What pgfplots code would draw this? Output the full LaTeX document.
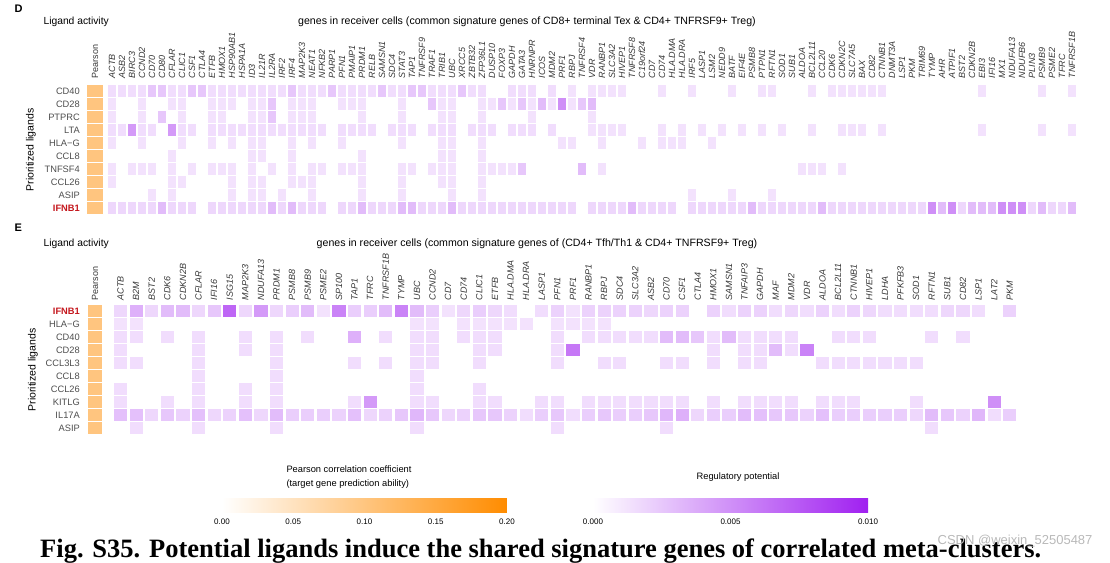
\documentclass[border=0pt]{standalone}
\usepackage{fontspec}
\setmainfont{Liberation Sans}
\newfontfamily\capfont{Liberation Serif}
\usepackage{pgfplots}
\pgfplotsset{compat=1.18}
\definecolor{lab}{RGB}{77,77,77}
\definecolor{collab}{RGB}{55,55,55}
\definecolor{ifnred}{RGB}{196,22,28}
\pgfdeclareplotmark{cellD}{\pgfpathrectangle{\pgfpoint{-4.25pt}{-5.75pt}}{\pgfpoint{8.5pt}{11.5pt}}\pgfusepathqfill}
\pgfdeclareplotmark{cellE}{\pgfpathrectangle{\pgfpoint{-6.6pt}{-5.75pt}}{\pgfpoint{13.2pt}{11.5pt}}\pgfusepathqfill}
\pgfdeclareplotmark{pearD}{\pgfpathrectangle{\pgfpoint{-8pt}{-5.75pt}}{\pgfpoint{16pt}{11.5pt}}\pgfusepathqfill}
\pgfdeclareplotmark{pearE}{\pgfpathrectangle{\pgfpoint{-7pt}{-5.75pt}}{\pgfpoint{14pt}{11.5pt}}\pgfusepathqfill}
\pgfplotsset{
  colormap={purp}{rgb255=(255,255,255) rgb255=(160,32,240)},
  colormap={orng}{rgb255=(255,255,255) rgb255=(255,140,0)},
  hm/.style={scale only axis, clip=false, axis line style={draw=none},
    major tick length=0pt, tick style={draw=none}, ymin=0.5, ymax=10.5, height=130pt},
  cellplot/.style={scatter, only marks, mark=#1, point meta=explicit,
    scatter/use mapped color={fill=mapped color, draw=none}},
  rowlab/.style={y tick label style={anchor=east, inner sep=0pt,
    font=\fontsize{9.3}{11}\selectfont, text=lab}},
  collab/.style={xticklabel pos=upper,
    x tick label style={rotate=90, anchor=west, inner sep=0pt,
    font=\itshape\fontsize{9}{10}\selectfont, text=collab}},
  cbar/.style={scale only axis, height=18pt, scaled x ticks=false,
    axis line style={draw=none}, axis on top, major tick length=18pt, tick align=inside,
    xtick pos=lower, xticklabel pos=lower, xticklabel shift=3pt,
    major tick style={white, line width=0.8pt}},
}
\begin{document}
\begin{tikzpicture}
\useasboundingbox (0,0) rectangle (1110pt,-562pt);
% ---------------- panel D ----------------
\node[anchor=west, font=\bfseries\fontsize{11}{13}\selectfont] at (11pt,-9pt) {D};
\node[anchor=west, font=\fontsize{10.3}{12}\selectfont] at (40pt,-22pt) {Ligand activity};
\node[font=\fontsize{10.6}{12}\selectfont] at (527pt,-22pt) {genes in receiver cells (common signature genes of CD8+ terminal Tex \& CD4+ TNFRSF9+ Treg)};
\node[rotate=90, font=\fontsize{10.5}{12}\selectfont] at (31pt,-150pt) {Prioritized ligands};
\begin{axis}[hm, collab, rowlab, at={(87pt,-214.5pt)}, anchor=south west, width=990pt,
  xmin=-1.5, xmax=97.5, colormap name=purp, point meta min=0, point meta max=0.01,
  xtick={-0.7,1,2,...,97}, xticklabel shift=6pt, yticklabel shift=7pt,
  xticklabels={\upshape Pearson,ACTB,ASB2,BIRC3,CCND2,CD70,CD80,CFLAR,CLIC1,CSF1,CTLA4,ETFB,HMOX1,HSP90AB1,HSPA1A,ID3,IL21R,IL2RA,IRF2,IRF4,MAP2K3,NEAT1,NFKB2,PARP1,PFN1,PMAIP1,PRDM1,RELB,SAMSN1,SDC4,STAT3,TAP1,TNFRSF9,TRAF1,TRIB1,UBC,XRCC5,ZBTB32,ZFP36L1,DUSP10,FOXP3,GAPDH,GATA3,HNRNPR,ICOS,MDM2,PRF1,RBPJ,TNFRSF4,VDR,RANBP1,SLC3A2,HIVEP1,TNFRSF8,C19orf24,CD7,CD74,HLA.DMA,HLA.DRA,IRF5,LASP1,LSM2,NEDD9,BATF,EIF4E,PSMB8,PTPN1,RFTN1,SOD1,SUB1,ALDOA,BCL2L11,CCL20,CDK6,CDKN2C,SLC7A5,BAX,CD82,CTNNB1,DNMT3A,LSP1,PKM,TRIM69,TYMP,AHR,ATPIF1,BST2,CDKN2B,EBI3,IFI16,MX1,NDUFA13,NDUFB6,PLIN3,PSMB9,PSME2,TFRC,TNFRSF1B},
  ytick={1,...,10},
  yticklabels={\textcolor{ifnred}{\bfseries IFNB1},ASIP,CCL26,TNFSF4,CCL8,HLA\symbol{"2212}G,LTA,PTPRC,CD28,CD40}]
\addplot[cellplot=cellD] coordinates {
(1,10)[.0015] (2,10)[.0015] (3,10)[.0015] (4,10)[.0015] (5,10)[.0025] (6,10)[.0025] (7,10)[.0015] (8,10)[.0015] (9,10)[.0025] (10,10)[.0025] (11,10)[.0015] (12,10)[.0015] (13,10)[.0015] (14,10)[.0015] (15,10)[.0015] (16,10)[.0015] (17,10)[.0015] (18,10)[.0015] (19,10)[.0025] (20,10)[.0015] (21,10)[.0015] (22,10)[.0015] (23,10)[.0025] (24,10)[.0015] (25,10)[.0015] (26,10)[.0015] (27,10)[.0015] (28,10)[.0025] (29,10)[.0015] (30,10)[.0015] (31,10)[.0025] (32,10)[.0025] (33,10)[.0015] (34,10)[.0015] (35,10)[.0015] (36,10)[.0025] (37,10)[.0015] (38,10)[.0015] (41,10)[.0015] (42,10)[.0015] (43,10)[.0015] (45,10)[.0015] (47,10)[.0013] (49,10)[.0013] (50,10)[.0013] (51,10)[.0013] (52,10)[.0013] (56,10)[.0013] (59,10)[.0013] (63,10)[.0013] (66,10)[.0013] (67,10)[.0013] (71,10)[.0013] (73,10)[.0013] (74,10)[.0013] (75,10)[.0013] (76,10)[.0013] (77,10)[.0013] (78,10)[.0013] (88,10)[.0013] (94,10)[.0013] (97,10)[.0013]
(1,9)[.0013] (4,9)[.0013] (7,9)[.0013] (8,9)[.0013] (11,9)[.0013] (12,9)[.0013] (13,9)[.0013] (15,9)[.0013] (16,9)[.0013] (17,9)[.0025] (19,9)[.0013] (20,9)[.0013] (21,9)[.0013] (24,9)[.0013] (25,9)[.0013] (26,9)[.0013] (30,9)[.0013] (33,9)[.0025] (34,9)[.0013] (35,9)[.0013] (38,9)[.0013] (39,9)[.0013] (40,9)[.0025] (41,9)[.0013] (42,9)[.0025] (43,9)[.0013] (44,9)[.003] (45,9)[.0013] (46,9)[.005] (47,9)[.0013] (48,9)[.0025] (49,9)[.003]
(1,8)[.0013] (4,8)[.0013] (6,8)[.0025] (8,8)[.0013] (11,8)[.0013] (12,8)[.0013] (15,8)[.0013] (16,8)[.0013] (17,8)[.0025] (19,8)[.0013] (20,8)[.0013] (21,8)[.0013] (26,8)[.0013] (30,8)[.0013] (34,8)[.0013] (35,8)[.0013] (38,8)[.0013] (43,8)[.0013] (49,8)[.0013]
(1,7)[.0015] (2,7)[.0015] (3,7)[.0045] (4,7)[.0015] (5,7)[.0015] (7,7)[.0045] (8,7)[.0015] (9,7)[.0015] (11,7)[.0015] (12,7)[.0015] (13,7)[.0015] (14,7)[.0015] (15,7)[.0015] (16,7)[.0015] (17,7)[.0015] (18,7)[.0015] (19,7)[.0015] (20,7)[.0015] (21,7)[.0015] (22,7)[.0015] (24,7)[.0015] (25,7)[.0015] (26,7)[.0015] (27,7)[.0015] (29,7)[.0015] (30,7)[.0015] (31,7)[.0015] (33,7)[.0015] (34,7)[.0015] (35,7)[.0015] (37,7)[.0015] (38,7)[.0015] (39,7)[.0015] (41,7)[.0015] (42,7)[.0015] (43,7)[.0015] (45,7)[.0015] (49,7)[.0013] (50,7)[.0013] (51,7)[.0013] (52,7)[.0013] (56,7)[.0013] (58,7)[.0013] (60,7)[.0013] (62,7)[.0013] (64,7)[.0013] (66,7)[.0013] (68,7)[.0013] (71,7)[.0013] (74,7)[.0013] (75,7)[.0013] (76,7)[.0013] (78,7)[.0013] (88,7)[.0013] (94,7)[.0013] (97,7)[.0013]
(1,6)[.0013] (4,6)[.0013] (8,6)[.0013] (11,6)[.0013] (13,6)[.0013] (15,6)[.0013] (16,6)[.0013] (19,6)[.0013] (21,6)[.0013] (24,6)[.0013] (30,6)[.0013] (34,6)[.0013] (35,6)[.0013] (38,6)[.0013] (46,6)[.0013] (47,6)[.0013] (50,6)[.0013] (54,6)[.0013] (56,6)[.0013] (57,6)[.0013] (58,6)[.0013] (61,6)[.0013]
(7,5)[.0013] (15,5)[.0013] (16,5)[.0013] (19,5)[.0013] (26,5)[.0013] (34,5)[.0013] (35,5)[.0013] (38,5)[.0013]
(1,4)[.0013] (3,4)[.0013] (4,4)[.0013] (5,4)[.0013] (7,4)[.0013] (9,4)[.0013] (11,4)[.0013] (12,4)[.0013] (13,4)[.0013] (15,4)[.0013] (17,4)[.0013] (19,4)[.0013] (21,4)[.0013] (22,4)[.0013] (24,4)[.0013] (25,4)[.0013] (26,4)[.0013] (30,4)[.0013] (31,4)[.0013] (33,4)[.0013] (34,4)[.0013] (35,4)[.0013] (38,4)[.0013] (39,4)[.0013] (40,4)[.0013] (41,4)[.0013] (42,4)[.0025] (48,4)[.003] (50,4)[.0013] (70,4)[.0013] (71,4)[.0013] (72,4)[.0013] (74,4)[.0013]
(1,3)[.0013] (7,3)[.0013] (8,3)[.0013] (13,3)[.0013] (15,3)[.0013] (16,3)[.0013] (19,3)[.0013] (20,3)[.0013] (21,3)[.0013] (26,3)[.0013] (30,3)[.0013] (34,3)[.0013] (35,3)[.0013] (38,3)[.0013]
(5,2)[.0013] (7,2)[.0013] (13,2)[.0013] (15,2)[.0013] (16,2)[.0013] (18,2)[.0013] (21,2)[.0013] (26,2)[.0013] (30,2)[.0013] (35,2)[.0013] (38,2)[.0013] (59,2)[.0013] (63,2)[.0013] (67,2)[.0013]
(1,1)[.0018] (2,1)[.0018] (3,1)[.0018] (4,1)[.0018] (5,1)[.0018] (6,1)[.003] (7,1)[.0018] (8,1)[.0018] (9,1)[.0018] (11,1)[.0018] (12,1)[.0018] (13,1)[.0018] (14,1)[.0018] (15,1)[.0018] (16,1)[.0018] (17,1)[.003] (18,1)[.0018] (19,1)[.003] (20,1)[.0018] (21,1)[.0018] (22,1)[.0018] (24,1)[.0018] (25,1)[.0018] (26,1)[.003] (27,1)[.0018] (28,1)[.0018] (29,1)[.0018] (30,1)[.003] (31,1)[.003] (32,1)[.0018] (33,1)[.0018] (34,1)[.0018] (35,1)[.003] (36,1)[.0018] (37,1)[.0018] (38,1)[.0018] (39,1)[.0018] (40,1)[.0018] (41,1)[.0018] (42,1)[.0018] (43,1)[.0018] (44,1)[.0018] (45,1)[.0018] (46,1)[.0018] (47,1)[.0018] (49,1)[.0018] (50,1)[.0018] (51,1)[.0018] (52,1)[.0018] (53,1)[.003] (54,1)[.0018] (55,1)[.0018] (56,1)[.0018] (57,1)[.0018] (59,1)[.0018] (60,1)[.0018] (61,1)[.0018] (62,1)[.0018] (63,1)[.0018] (64,1)[.0018] (65,1)[.003] (66,1)[.0018] (67,1)[.0018] (68,1)[.0018] (69,1)[.0018] (70,1)[.0018] (71,1)[.0018] (72,1)[.003] (73,1)[.0018] (74,1)[.0018] (75,1)[.0018] (76,1)[.0018] (77,1)[.0018] (78,1)[.0018] (79,1)[.0018] (80,1)[.0018] (81,1)[.0018] (82,1)[.0018] (83,1)[.005] (84,1)[.003] (85,1)[.005] (86,1)[.0018] (87,1)[.003] (88,1)[.003] (89,1)[.003] (90,1)[.005] (91,1)[.005] (92,1)[.005] (93,1)[.0018] (94,1)[.003] (95,1)[.0018] (96,1)[.0018] (97,1)[.003]
};
\end{axis}
\begin{axis}[hm, at={(87pt,-214.5pt)}, anchor=south west, width=990pt,
  xmin=-1.5, xmax=97.5, xtick=\empty, ytick=\empty,
  colormap name=orng, point meta min=0, point meta max=0.2]
\addplot[cellplot=pearD] coordinates {
(-0.7,1)[0.1] (-0.7,2)[0.1] (-0.7,3)[0.1] (-0.7,4)[0.1] (-0.7,5)[0.1] (-0.7,6)[0.1] (-0.7,7)[0.1] (-0.7,8)[0.1] (-0.7,9)[0.1] (-0.7,10)[0.1]};
\end{axis}
% ---------------- panel E ----------------
\node[anchor=west, font=\bfseries\fontsize{11}{13}\selectfont] at (11pt,-228pt) {E};
\node[anchor=west, font=\fontsize{10.3}{12}\selectfont] at (40pt,-244pt) {Ligand activity};
\node[font=\fontsize{10.6}{12}\selectfont] at (537pt,-244pt) {genes in receiver cells (common signature genes of (CD4+ Tfh/Th1 \& CD4+ TNFRSF9+ Treg)};
\node[rotate=90, font=\fontsize{10.5}{12}\selectfont] at (33pt,-370pt) {Prioritized ligands};
\begin{axis}[hm, collab, rowlab, at={(81.5pt,-434.5pt)}, anchor=south west, width=936pt,
  xmin=-1.5, xmax=58.5, colormap name=purp, point meta min=0, point meta max=0.01,
  xtick={-0.635,1,2,...,58}, xticklabel shift=4pt, yticklabel shift=1.5pt,
  xticklabels={\upshape Pearson,ACTB,B2M,BST2,CDK6,CDKN2B,CFLAR,IFI16,ISG15,MAP2K3,NDUFA13,PRDM1,PSMB8,PSMB9,PSME2,SP100,TAP1,TFRC,TNFRSF1B,TYMP,UBC,CCND2,CD7,CD74,CLIC1,ETFB,HLA.DMA,HLA.DRA,LASP1,PFN1,PRF1,RANBP1,RBPJ,SDC4,SLC3A2,ASB2,CD70,CSF1,CTLA4,HMOX1,SAMSN1,TNFAIP3,GAPDH,MAF,MDM2,VDR,ALDOA,BCL2L11,CTNNB1,HIVEP1,LDHA,PFKFB3,SOD1,RFTN1,SUB1,CD82,LSP1,LAT2,PKM},
  ytick={1,...,10},
  yticklabels={ASIP,IL17A,KITLG,CCL26,CCL8,CCL3L3,CD28,CD40,HLA\symbol{"2212}G,\textcolor{ifnred}{\bfseries IFNB1}},
  colorbar horizontal,
  colorbar style={cbar, at={(parent axis.south west)}, anchor=north west, xshift=511.5pt, yshift=-51.5pt,
    width=275pt, xtick={0,0.005,0.01},
    xticklabel style={font=\fontsize{8}{9}\selectfont, /pgf/number format/fixed, /pgf/number format/fixed zerofill, /pgf/number format/precision=3, /pgf/number format/assume math mode=true}}]
\addplot[cellplot=cellE] coordinates {
(1,10)[.0018] (2,10)[.0035] (3,10)[.0018] (4,10)[.003] (5,10)[.003] (6,10)[.0018] (7,10)[.0025] (8,10)[.0068] (9,10)[.0018] (10,10)[.0045] (11,10)[.0018] (12,10)[.0022] (13,10)[.003] (14,10)[.0013] (15,10)[.0055] (16,10)[.0022] (17,10)[.0022] (18,10)[.003] (19,10)[.0055] (20,10)[.003] (21,10)[.0022] (22,10)[.0013] (23,10)[.0018] (24,10)[.0022] (25,10)[.0018] (26,10)[.0015] (28,10)[.0015] (29,10)[.002] (30,10)[.0013] (31,10)[.002] (32,10)[.002] (33,10)[.002] (34,10)[.002] (35,10)[.0018] (36,10)[.002] (37,10)[.002] (39,10)[.002] (40,10)[.0015] (41,10)[.002] (42,10)[.002] (43,10)[.0015] (44,10)[.0018] (45,10)[.0015] (46,10)[.002] (47,10)[.0015] (48,10)[.002] (49,10)[.0018] (50,10)[.0015] (51,10)[.0015] (52,10)[.0015] (53,10)[.0015] (54,10)[.0018] (55,10)[.0018] (56,10)[.0015] (58,10)[.002]
(1,9)[.0013] (2,9)[.0013] (20,9)[.0013] (21,9)[.0013] (23,9)[.0013] (24,9)[.0013] (25,9)[.0013] (26,9)[.0013] (27,9)[.0013] (29,9)[.0013] (30,9)[.0013] (31,9)[.0013] (32,9)[.0013]
(1,8)[.0015] (2,8)[.0015] (4,8)[.0015] (6,8)[.0015] (9,8)[.0015] (11,8)[.0015] (13,8)[.0015] (16,8)[.0035] (18,8)[.0015] (20,8)[.0015] (21,8)[.0015] (23,8)[.0015] (24,8)[.0015] (25,8)[.0015] (29,8)[.0015] (31,8)[.0015] (32,8)[.0015] (33,8)[.0015] (34,8)[.0015] (35,8)[.0015] (36,8)[.003] (37,8)[.003] (38,8)[.0025] (39,8)[.0015] (40,8)[.003] (41,8)[.0015] (42,8)[.0015] (43,8)[.0015] (44,8)[.0015] (47,8)[.0015] (48,8)[.0015] (49,8)[.0015] (53,8)[.0015] (55,8)[.0015]
(1,7)[.0015] (6,7)[.0015] (9,7)[.0015] (11,7)[.0015] (20,7)[.0015] (21,7)[.0015] (24,7)[.0015] (25,7)[.0015] (29,7)[.0015] (30,7)[.006] (39,7)[.0015] (41,7)[.0015] (42,7)[.0015] (43,7)[.003] (44,7)[.0015] (45,7)[.0055]
(1,6)[.0015] (2,6)[.0015] (6,6)[.0015] (11,6)[.0015] (16,6)[.0015] (18,6)[.0015] (20,6)[.0015] (21,6)[.0015] (24,6)[.0015] (29,6)[.0015] (32,6)[.0015] (33,6)[.0015] (36,6)[.0015] (37,6)[.0015] (39,6)[.0015] (41,6)[.0015] (42,6)[.0015] (46,6)[.0015] (47,6)[.0015] (48,6)[.0015] (49,6)[.0015] (50,6)[.0015] (51,6)[.0015] (52,6)[.0015]
(6,5)[.0015] (11,5)[.0015] (20,5)[.0015]
(1,4)[.0015] (6,4)[.0015] (9,4)[.0015] (11,4)[.0015] (20,4)[.0015] (24,4)[.0015]
(1,3)[.0015] (4,3)[.0015] (6,3)[.0015] (9,3)[.0015] (11,3)[.0015] (16,3)[.0015] (17,3)[.0045] (20,3)[.0015] (21,3)[.0015] (24,3)[.0015] (25,3)[.0015] (28,3)[.0015] (29,3)[.0015] (31,3)[.0015] (32,3)[.0015] (33,3)[.0015] (34,3)[.0015] (35,3)[.0015] (36,3)[.0015] (37,3)[.0015] (39,3)[.0015] (41,3)[.0015] (42,3)[.0015] (43,3)[.0015] (44,3)[.0015] (46,3)[.0015] (47,3)[.0015] (48,3)[.0015] (52,3)[.0015] (57,3)[.005]
(1,2)[.0028] (2,2)[.0028] (3,2)[.0018] (4,2)[.0025] (5,2)[.002] (6,2)[.0028] (7,2)[.0018] (8,2)[.002] (9,2)[.0028] (10,2)[.0018] (11,2)[.003] (12,2)[.0022] (13,2)[.0022] (14,2)[.0022] (15,2)[.002] (16,2)[.0028] (17,2)[.0018] (18,2)[.002] (19,2)[.0025] (20,2)[.0032] (21,2)[.0025] (22,2)[.0018] (23,2)[.002] (24,2)[.0025] (25,2)[.0025] (26,2)[.002] (27,2)[.0015] (28,2)[.0022] (29,2)[.0025] (30,2)[.0015] (31,2)[.0022] (32,2)[.0025] (33,2)[.0022] (34,2)[.0022] (35,2)[.0025] (36,2)[.0032] (37,2)[.0035] (38,2)[.0018] (39,2)[.0022] (40,2)[.0022] (41,2)[.003] (42,2)[.0028] (43,2)[.0025] (44,2)[.0025] (45,2)[.002] (46,2)[.0028] (47,2)[.0022] (48,2)[.0022] (49,2)[.0022] (50,2)[.0022] (51,2)[.0022] (52,2)[.0018] (53,2)[.003] (54,2)[.0025] (55,2)[.002] (56,2)[.0032] (57,2)[.0015] (58,2)[.0022]
(2,1)[.0015] (6,1)[.0015] (11,1)[.0015] (20,1)[.0015] (29,1)[.0015] (36,1)[.0015] (53,1)[.0015]
};
\end{axis}
\begin{axis}[hm, at={(81.5pt,-434.5pt)}, anchor=south west, width=936pt,
  xmin=-1.5, xmax=58.5, xtick=\empty, ytick=\empty,
  colormap name=orng, point meta min=0, point meta max=0.2,
  colorbar horizontal,
  colorbar style={cbar, at={(parent axis.south west)}, anchor=north west, xshift=140.5pt, yshift=-51.5pt,
    width=285pt, xtick={0,0.05,0.1,0.15,0.2},
    xticklabel style={font=\fontsize{8}{9}\selectfont, /pgf/number format/fixed, /pgf/number format/fixed zerofill, /pgf/number format/precision=2, /pgf/number format/assume math mode=true}}]
\addplot[cellplot=pearE] coordinates {
(-0.635,1)[0.1] (-0.635,2)[0.1] (-0.635,3)[0.1] (-0.635,4)[0.1] (-0.635,5)[0.1] (-0.635,6)[0.1] (-0.635,7)[0.1] (-0.635,8)[0.1] (-0.635,9)[0.1] (-0.635,10)[0.1]};
\end{axis}
% ---------------- legend titles, caption ----------------
\node[anchor=west, align=left, font=\fontsize{9.3}{14}\selectfont] at (283pt,-477pt) {Pearson correlation coefficient\\(target gene prediction ability)};
\node[font=\fontsize{9.3}{11}\selectfont] at (738pt,-477pt) {Regulatory potential};
\node[anchor=base west, inner sep=0pt, font=\capfont\bfseries\fontsize{26.5}{30}\selectfont] at (40pt,-557pt) {Fig. S35. Potential ligands induce the shared signature genes of correlated meta-clusters.};
\node[anchor=east, text=gray!55, font=\fontsize{13}{15}\selectfont] at (1096pt,-541pt) {CSDN @weixin\_52505487};
\end{tikzpicture}
\end{document}
